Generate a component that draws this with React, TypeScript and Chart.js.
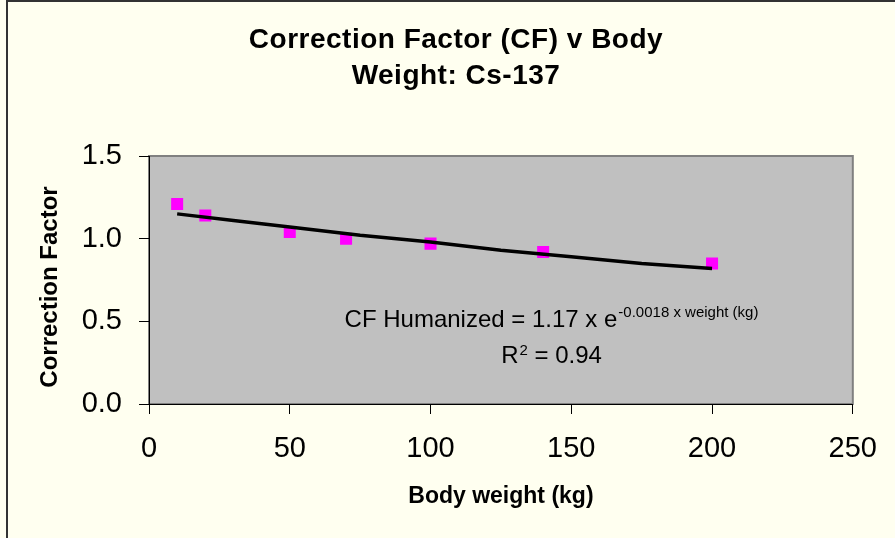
import React, { useEffect, useRef } from 'react';
import { Chart, registerables } from 'chart.js';

Chart.register(...registerables);

// ---- Data ----
const bodyWeights = [10, 20, 50, 70, 100, 140, 200];
const correctionFactors = [1.21, 1.14, 1.04, 1.0, 0.97, 0.92, 0.85];
const trendWeights = [10, 30, 50, 75, 100, 125, 150, 175, 200];
const trendValues = [1.15, 1.11, 1.07, 1.02, 0.98, 0.93, 0.89, 0.85, 0.82];
const xTickValues = [0, 50, 100, 150, 200, 250];
const yTickValues = [0, 0.5, 1.0, 1.5];

// ---- Texts ----
const titleLines = ['Correction Factor (CF) v Body', 'Weight: Cs-137'];
const xAxisTitle = 'Body weight (kg)';
const yAxisTitle = 'Correction Factor';
const eqMain = 'CF Humanized = 1.17 x e';
const eqSup = '-0.0018 x weight (kg)';
const r2Main = 'R';
const r2Sup = '2';
const r2Rest = ' = 0.94';

const FONT = "'Liberation Sans', Arial, sans-serif";

const decorPlugin = {
  id: 'decor',
  beforeDraw(chart: any) {
    const { ctx, chartArea: a, width, height } = chart;
    ctx.save();
    ctx.fillStyle = '#FFFFF0';
    ctx.fillRect(0, 0, width, height);
    // outer frame (left and top edges visible)
    ctx.fillStyle = '#333333';
    ctx.fillRect(6, 0, 2, height);
    ctx.fillRect(6, 0, width - 6, 2);
    // plot area
    ctx.fillStyle = '#C0C0C0';
    ctx.fillRect(a.left, a.top, a.right - a.left, a.bottom - a.top);
    ctx.strokeStyle = '#808080';
    ctx.lineWidth = 2;
    ctx.strokeRect(a.left, a.top, a.right - a.left, a.bottom - a.top);
    ctx.restore();
  },
  afterDraw(chart: any) {
    const { ctx, chartArea: a } = chart;
    ctx.save();
    ctx.fillStyle = '#000000';
    ctx.textBaseline = 'alphabetic';

    // Title
    ctx.font = `bold 28px ${FONT}`;
    ctx.textAlign = 'center';
    try { (ctx as any).letterSpacing = '0.5px'; } catch (e) {}
    ctx.fillText(titleLines[0], 456, 48);
    ctx.fillText(titleLines[1], 456, 84);
    try { (ctx as any).letterSpacing = '0px'; } catch (e) {}

    // X axis title
    ctx.font = `bold 23px ${FONT}`;
    ctx.fillText(xAxisTitle, (a.left + a.right) / 2, 503);

    // Y axis title
    ctx.save();
    ctx.font = `bold 24px ${FONT}`;
    ctx.translate(57, 287);
    ctx.rotate(-Math.PI / 2);
    ctx.fillText(yAxisTitle, 0, 0);
    ctx.restore();

    // Equation
    ctx.textAlign = 'left';
    const cx = 551;
    ctx.font = `24px ${FONT}`;
    const wMain = ctx.measureText(eqMain).width;
    ctx.font = `15px ${FONT}`;
    const wSup = ctx.measureText(eqSup).width;
    let x0 = cx - (wMain + wSup) / 2;
    ctx.font = `24px ${FONT}`;
    ctx.fillText(eqMain, x0, 327);
    ctx.font = `15px ${FONT}`;
    ctx.fillText(eqSup, x0 + wMain + 1, 317);

    // R^2
    ctx.font = `24px ${FONT}`;
    const wR = ctx.measureText(r2Main).width;
    const wRest = ctx.measureText(r2Rest).width;
    ctx.font = `15px ${FONT}`;
    const w2 = ctx.measureText(r2Sup).width;
    x0 = cx - (wR + w2 + wRest) / 2;
    ctx.font = `24px ${FONT}`;
    ctx.fillText(r2Main, x0, 363);
    ctx.font = `15px ${FONT}`;
    ctx.fillText(r2Sup, x0 + wR + 1, 355);
    ctx.font = `24px ${FONT}`;
    ctx.fillText(r2Rest, x0 + wR + w2 + 1, 363);

    ctx.restore();
  },
};

export default function App() {
  const canvasRef = useRef<HTMLCanvasElement | null>(null);

  useEffect(() => {
    document.body.style.margin = '0';
    const canvas = canvasRef.current;
    if (!canvas) return;

    const chart = new Chart(canvas, {
      type: 'scatter',
      data: {
        datasets: [
          {
            type: 'line',
            label: 'Trend',
            data: trendWeights.map((w, i) => ({ x: w, y: trendValues[i] })),
            borderColor: '#000000',
            borderWidth: 3.5,
            pointRadius: 0,
            tension: 0,
            fill: false,
          },
          {
            type: 'scatter',
            label: 'CF',
            data: bodyWeights.map((w, i) => ({ x: w, y: correctionFactors[i] })),
            backgroundColor: '#FF00FF',
            borderColor: '#FF00FF',
            borderWidth: 0,
            pointStyle: 'rect',
            pointRadius: 8.5,
          },
        ],
      },
      options: {
        responsive: false,
        animation: false,
        devicePixelRatio: 1,
        layout: { padding: { left: 0, right: 40, top: 156, bottom: 0 } },
        plugins: {
          legend: { display: false },
          tooltip: { enabled: false },
          title: { display: false },
        },
        scales: {
          x: {
            type: 'linear',
            min: 0,
            max: 250,
            afterFit: (s: any) => {
              s.height = 134;
            },
            afterBuildTicks: (s: any) => {
              s.ticks = xTickValues.map((v) => ({ value: v }));
            },
            ticks: {
              color: '#000000',
              font: { family: FONT, size: 29 },
              padding: 18,
              maxRotation: 0,
              autoSkip: false,
              callback: (v: any) => String(v),
            },
            grid: {
              display: true,
              drawOnChartArea: false,
              drawTicks: true,
              tickLength: 10,
              color: '#000000',
              lineWidth: 1,
            },
            border: { display: true, color: '#000000', width: 1 },
          },
          y: {
            type: 'linear',
            min: 0,
            max: 1.5,
            afterFit: (s: any) => {
              s.width = 149;
            },
            afterBuildTicks: (s: any) => {
              s.ticks = yTickValues.map((v) => ({ value: v }));
            },
            ticks: {
              color: '#000000',
              font: { family: FONT, size: 29 },
              padding: 17,
              autoSkip: false,
              callback: (v: any) => Number(v).toFixed(1),
            },
            grid: {
              display: true,
              drawOnChartArea: false,
              drawTicks: true,
              tickLength: 10,
              color: '#000000',
              lineWidth: 1,
            },
            border: { display: true, color: '#000000', width: 1 },
          },
        },
      },
      plugins: [decorPlugin],
    });

    return () => {
      chart.destroy();
    };
  }, []);

  return (
    <div style={{ width: 895, height: 538 }}>
      <canvas ref={canvasRef} width={895} height={538} style={{ display: 'block' }} />
    </div>
  );
}
